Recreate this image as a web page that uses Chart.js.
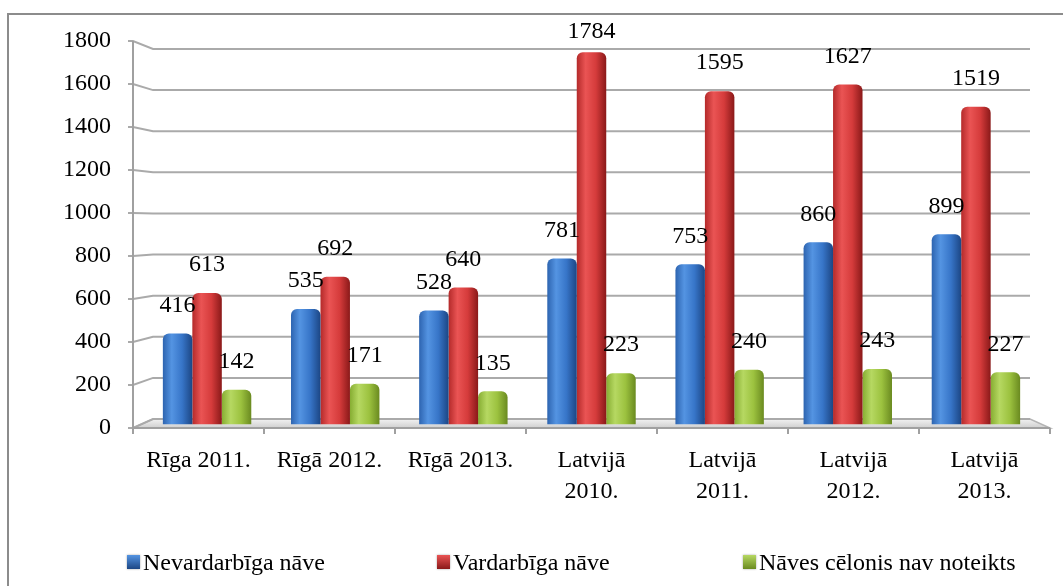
<!DOCTYPE html>
<html>
<head>
<meta charset="utf-8">
<title>Nāves cēloņi</title>
<script src="https://cdn.jsdelivr.net/npm/chart.js@4.4.1/dist/chart.umd.min.js"></script>
<style>
  html, body { margin: 0; padding: 0; background: #fff; overflow: hidden; }
  #wrap { position: relative; width: 1063px; height: 586px; }
  #legend {
    position: absolute; left: 0; top: 547px; width: 1063px; height: 30px;
    font-family: 'Liberation Serif', 'Times New Roman', serif; font-size: 24px; color: #000;
  }
  .item { position: absolute; top: 0; height: 30px; display: flex; align-items: center; white-space: nowrap; }
  .box { width: 13px; height: 14px; margin-right: 3px; box-shadow: 0 0 2px rgba(0, 0, 0, 0.35); }
</style>
</head>
<body>
<div id="wrap">
  <canvas id="chart" width="1063" height="586"></canvas>
  <div id="legend"></div>
</div>
<script>
const CATEGORIES = [
  ["Rīga 2011."],
  ["Rīgā 2012."],
  ["Rīgā 2013."],
  ["Latvijā", "2010."],
  ["Latvijā", "2011."],
  ["Latvijā", "2012."],
  ["Latvijā", "2013."],
];
const SERIES_NAMES = ["Nevardarbīga nāve", "Vardarbīga nāve", "Nāves cēlonis nav noteikts"];
const NONVIOLENT = [416, 535, 528, 781, 753, 860, 899];
const VIOLENT = [613, 692, 640, 1784, 1595, 1627, 1519];
const UNDETERMINED = [142, 171, 135, 223, 240, 243, 227];
const Y_TICKS = [0, 200, 400, 600, 800, 1000, 1200, 1400, 1600, 1800];

(function () {
  const FONT = "'Liberation Serif', 'Times New Roman', serif";
  const SERIES_VALUES = [NONVIOLENT, VIOLENT, UNDETERMINED];

  // cylinder shading: left edge, highlight, body, right edge
  const SHADES = [
    ["#2d64b0", "#5494e2", "#3775c8", "#1c4684"],
    ["#b42a2a", "#ea5454", "#d53b3b", "#8a1919"],
    ["#86ad32", "#b6d862", "#9cc23f", "#6a8a20"],
  ];
  const LEGEND_LEFT = [127, 437, 743];

  const CAT_PCT = 0.69;
  const FRONT_K = 1.0223; // front edge of floor is wider than bar plane
  const WALL_K = 0.9777; // back wall is narrower
  const LABEL_K = 1.046; // tick labels sit on the front plane
  const PIVOT = 950;

  function labelY(y, v) {
    const c = y.getPixelForValue(PIVOT);
    return c + (y.getPixelForValue(v) - c) * LABEL_K;
  }

  function planeX(area, px, k) {
    const mid = (area.left + area.right) / 2;
    return mid + (px - mid) * k;
  }

  function barFill(c) {
    const shades = SHADES[c.datasetIndex];
    if (c.type !== "data" || !c.chart.chartArea) return shades[2];
    const x = c.chart.scales.x;
    const cat = x.getPixelForValue(1) - x.getPixelForValue(0);
    const w = (cat * CAT_PCT) / SERIES_VALUES.length;
    const left = x.getPixelForValue(c.dataIndex) - (cat * CAT_PCT) / 2 + c.datasetIndex * w;
    const g = c.chart.ctx.createLinearGradient(left, 0, left + w, 0);
    g.addColorStop(0, shades[0]);
    g.addColorStop(0.3, shades[1]);
    g.addColorStop(0.65, shades[2]);
    g.addColorStop(1, shades[3]);
    return g;
  }

  const backdrop = {
    id: "backdrop",
    beforeDatasetsDraw(chart) {
      const { ctx, chartArea: a, scales } = chart;
      const x = scales.x;
      const y = scales.y;
      const fl = planeX(a, a.left, FRONT_K);
      const fr = planeX(a, a.right, FRONT_K);
      const wl = planeX(a, a.left, WALL_K);
      const wr = planeX(a, a.right, WALL_K);
      const front = labelY(y, 0);
      const back = y.getPixelForValue(0);

      ctx.save();
      ctx.strokeStyle = "#8c8c8c";
      ctx.lineWidth = 2;
      ctx.strokeRect(8, 14, 1200, 800);

      // floor
      const g = ctx.createLinearGradient(0, back, 0, front);
      g.addColorStop(0, "#f2f2f2");
      g.addColorStop(1, "#cfcfcf");
      ctx.fillStyle = g;
      ctx.beginPath();
      ctx.moveTo(fl, front);
      ctx.lineTo(wl, back);
      ctx.lineTo(wr, back);
      ctx.lineTo(fr, front);
      ctx.closePath();
      ctx.fill();
      ctx.strokeStyle = "#b4b4b4";
      ctx.lineWidth = 1.5;
      ctx.stroke();

      // gridlines, bent from the front axis onto the back wall
      ctx.strokeStyle = "#aaaaaa";
      ctx.lineWidth = 2;
      Y_TICKS.forEach((v) => {
        const ly = labelY(y, v);
        const wy = y.getPixelForValue(v);
        ctx.beginPath();
        ctx.moveTo(fl - 5, ly);
        ctx.lineTo(fl, ly);
        ctx.lineTo(wl, wy);
        ctx.lineTo(wr, wy);
        ctx.stroke();
      });

      // axes
      ctx.strokeStyle = "#a0a0a0";
      ctx.beginPath();
      ctx.moveTo(fl, labelY(y, Y_TICKS[Y_TICKS.length - 1]));
      ctx.lineTo(fl, front);
      ctx.lineTo(fr, front);
      ctx.stroke();
      for (let i = 0; i <= CATEGORIES.length; i++) {
        const tx = planeX(a, x.getPixelForValue(i - 0.5), FRONT_K);
        ctx.beginPath();
        ctx.moveTo(tx, front);
        ctx.lineTo(tx, front + 6);
        ctx.stroke();
      }

      // tick labels
      ctx.fillStyle = "#000";
      ctx.font = "24px " + FONT;
      ctx.textAlign = "right";
      ctx.textBaseline = "middle";
      Y_TICKS.forEach((v) => ctx.fillText(String(v), fl - 22, labelY(y, v)));

      ctx.textAlign = "center";
      ctx.textBaseline = "alphabetic";
      CATEGORIES.forEach((lines, i) => {
        const cx = planeX(a, x.getPixelForValue(i), FRONT_K);
        lines.forEach((t, j) => ctx.fillText(t, cx, front + 39 + j * 31));
      });
      ctx.restore();
    },
    afterDatasetsDraw(chart) {
      const { ctx } = chart;
      ctx.save();
      ctx.fillStyle = "#000";
      ctx.font = "24px " + FONT;
      ctx.textAlign = "center";
      ctx.textBaseline = "middle";
      chart.data.datasets.forEach((ds, di) => {
        chart.getDatasetMeta(di).data.forEach((el, i) => {
          ctx.fillText(String(ds.data[i]), el.x, Math.max(el.y - 28, 32));
        });
      });
      ctx.restore();
    },
  };

  new Chart(document.getElementById("chart"), {
    type: "bar",
    data: {
      labels: CATEGORIES,
      datasets: SERIES_NAMES.map((name, i) => ({
        label: name,
        data: SERIES_VALUES[i],
        backgroundColor: barFill,
        borderWidth: 0,
        borderRadius: 6,
        base: -25,
        clip: false,
        categoryPercentage: CAT_PCT,
        barPercentage: 1,
      })),
    },
    options: {
      responsive: false,
      animation: false,
      devicePixelRatio: 1,
      layout: { padding: { top: 49, right: 23, bottom: 0, left: 0 } },
      plugins: {
        legend: { display: false },
        tooltip: { enabled: false },
      },
      scales: {
        x: {
          ticks: { display: false },
          grid: { display: false },
          border: { display: false },
          afterFit(scale) { scale.height = 167; },
        },
        y: {
          min: 0,
          max: Y_TICKS[Y_TICKS.length - 1],
          ticks: { display: false, stepSize: 200 },
          grid: { display: false },
          border: { display: false },
          afterFit(scale) { scale.width = 143; },
        },
      },
    },
    plugins: [backdrop],
  });

  const legend = document.getElementById("legend");
  SERIES_NAMES.forEach((name, i) => {
    const item = document.createElement("div");
    item.className = "item";
    item.style.left = LEGEND_LEFT[i] + "px";
    const box = document.createElement("span");
    box.className = "box";
    box.style.background = "linear-gradient(" + SHADES[i][1] + ", " + SHADES[i][3] + ")";
    item.appendChild(box);
    item.appendChild(document.createTextNode(name));
    legend.appendChild(item);
  });
})();
</script>
</body>
</html>
